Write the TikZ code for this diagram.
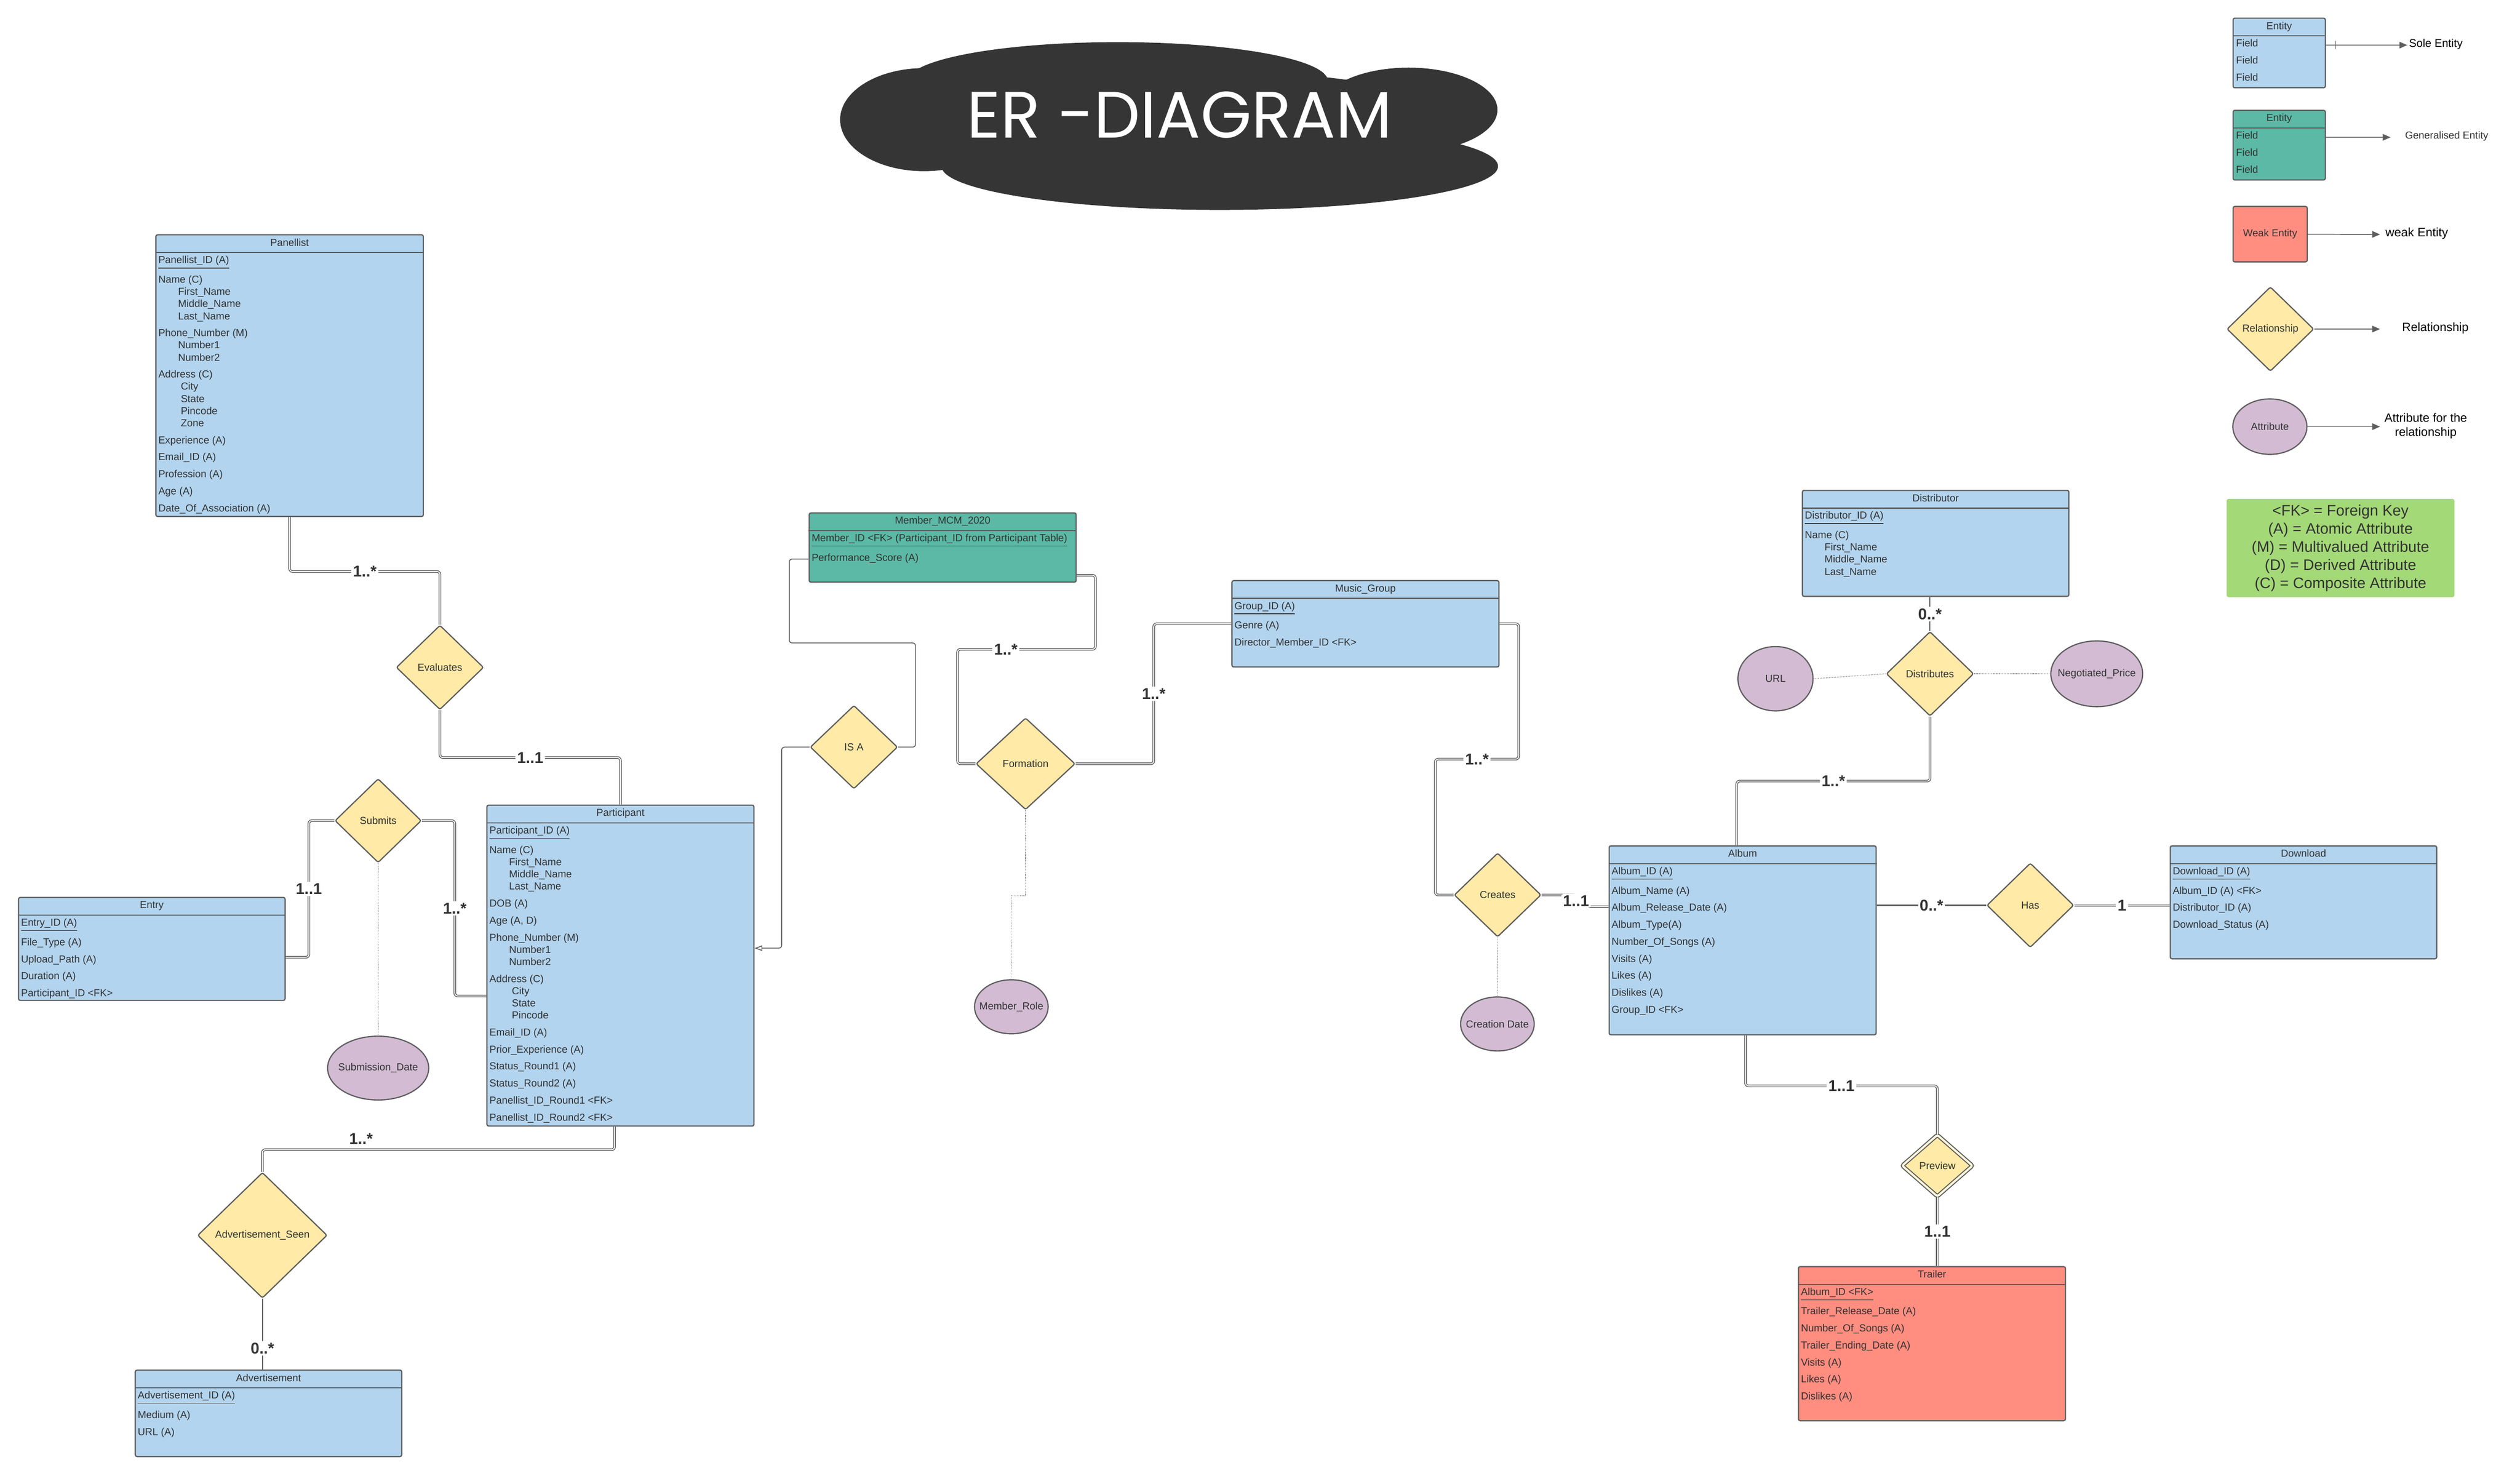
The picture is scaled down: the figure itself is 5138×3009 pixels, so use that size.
\documentclass[tikz,border=0pt]{standalone}
\usepackage{fontspec}
\setmainfont{Liberation Sans}
\newfontfamily\bannerfont{Poppins}
\usetikzlibrary{shapes.geometric, arrows.meta}
\definecolor{entblue}{RGB}{178,212,238}
\definecolor{entteal}{RGB}{91,185,165}
\definecolor{entweak}{RGB}{255,141,128}
\definecolor{relyel}{RGB}{255,234,167}
\definecolor{attpur}{RGB}{211,188,211}
\definecolor{keygrn}{RGB}{163,217,119}
\definecolor{lineg}{RGB}{94,94,94}
\definecolor{txt}{RGB}{51,51,51}
\definecolor{cloudc}{RGB}{53,53,53}
\tikzset{ent/.style  = {rectangle, draw=lineg, line width=0.7pt, rounded corners=1pt, inner sep=0pt},
         hdr/.style  = {draw=lineg, line width=0.7pt},
         ttl/.style  = {anchor=base, inner sep=0pt, text=txt, font=\fontsize{5.9}{7.06}\selectfont},
         fld/.style  = {anchor=north west, inner sep=0pt, align=left, text=txt, font=\fontsize{5.9}{7.06}\selectfont},
         rel/.style  = {diamond, draw=lineg, line width=0.7pt, fill=relyel, rounded corners=1pt, inner sep=0pt, text=txt, font=\fontsize{5.9}{7.06}\selectfont},
         att/.style  = {ellipse, draw=lineg, line width=0.7pt, fill=attpur, inner sep=0pt},
         every label/.style = {inner sep=0pt, text=txt, font=\fontsize{5.9}{7.06}\selectfont},
         card/.style = {fill=white, inner sep=1pt, text=txt, font=\fontsize{9.1}{10}\selectfont\bfseries},
         dbl/.style  = {draw=lineg, line width=0.45pt, double=white, double distance=0.55pt, rounded corners=1.7pt},
         one/.style  = {draw=lineg, line width=0.6pt},
         thinl/.style = {draw=lineg, line width=0.5pt, rounded corners=1.7pt},
         dotl/.style = {draw=lineg!80, line width=0.4pt, dash pattern=on 0.4pt off 0.5pt},
         lgd/.style  = {draw=lineg, line width=0.5pt},
         lgt/.style  = {anchor=west, inner sep=0pt, text=black, font=\fontsize{6.5}{7.8}\selectfont}}

\begin{document}
\begin{tikzpicture}[x=0.01cm, y=-0.01cm, >={Triangle[length=4.5pt, width=3.8pt]}]
    \useasboundingbox[fill=white] (0,0) rectangle (5138,3009);

    % title cloud
    \fill[cloudc] (2279,165) ellipse [x radius=4.28cm, y radius=0.79cm];
    \fill[cloudc] (1884,244) ellipse [x radius=1.71cm, y radius=1.05cm];
    \fill[cloudc] (2872,224) ellipse [x radius=1.81cm, y radius=0.86cm];
    \fill[cloudc] (2487,339) ellipse [x radius=5.67cm, y radius=0.89cm];
    \fill[cloudc] (2405,257) ellipse [x radius=5.93cm, y radius=1.15cm];
    \node[text=white, font=\bannerfont\fontsize{38}{40}\selectfont] (title) at (2405,234) {ER -DIAGRAM};

    % entities
    \node[ent, fill=entblue, minimum width=5.45cm, minimum height=5.74cm] (pan) at (590.5,766) {};
    \draw[hdr] ([yshift=-10.67pt]pan.north west) -- ([yshift=-10.67pt]pan.north east);
    \node[ttl] at ([yshift=-6.8pt]pan.north) {Panellist};
    \node[fld] at ([xshift=1.6pt,yshift=-12.5pt]pan.north west) {\underline{Panellist\_ID (A)}\\[2.8pt]
        Name (C)\\ \hspace*{11.4pt}First\_Name\\ \hspace*{11.4pt}Middle\_Name\\ \hspace*{11.4pt}Last\_Name\\[2.8pt]
        Phone\_Number (M)\\ \hspace*{11.4pt}Number1\\ \hspace*{11.4pt}Number2\\[2.8pt]
        Address (C)\\ \hspace*{13pt}City\\ \hspace*{13pt}State\\ \hspace*{13pt}Pincode\\ \hspace*{13pt}Zone\\[2.8pt]
        Experience (A)\\[2.8pt] Email\_ID (A)\\[2.8pt] Profession (A)\\[2.8pt] Age (A)\\[2.8pt] Date\_Of\_Association (A)};

    \node[ent, fill=entblue, minimum width=5.44cm, minimum height=6.54cm] (par) at (1265,1969) {};
    \draw[hdr] ([yshift=-10.67pt]par.north west) -- ([yshift=-10.67pt]par.north east);
    \node[ttl] at ([yshift=-6.8pt]par.north) {Participant};
    \node[fld] at ([xshift=1.6pt,yshift=-12.5pt]par.north west) {\underline{Participant\_ID (A)}\\[2.8pt]
        Name (C)\\ \hspace*{11.4pt}First\_Name\\ \hspace*{11.4pt}Middle\_Name\\ \hspace*{11.4pt}Last\_Name\\[2.8pt]
        DOB (A)\\[2.8pt] Age (A, D)\\[2.8pt]
        Phone\_Number (M)\\ \hspace*{11.4pt}Number1\\ \hspace*{11.4pt}Number2\\[2.8pt]
        Address (C)\\ \hspace*{13pt}City\\ \hspace*{13pt}State\\ \hspace*{13pt}Pincode\\[2.8pt]
        Email\_ID (A)\\[2.8pt] Prior\_Experience (A)\\[2.8pt] Status\_Round1 (A)\\[2.8pt] Status\_Round2 (A)\\[2.8pt]
        Panellist\_ID\_Round1 \textless FK\textgreater\\[2.8pt] Panellist\_ID\_Round2 \textless FK\textgreater};

    \node[ent, fill=entblue, minimum width=5.43cm, minimum height=2.10cm] (entry) at (309.5,1935) {};
    \draw[hdr] ([yshift=-10.67pt]entry.north west) -- ([yshift=-10.67pt]entry.north east);
    \node[ttl] at ([yshift=-6.8pt]entry.north) {Entry};
    \node[fld] at ([xshift=1.6pt,yshift=-12.5pt]entry.north west) {\underline{Entry\_ID (A)}\\[2.8pt]
        File\_Type (A)\\[2.8pt] Upload\_Path (A)\\[2.8pt] Duration (A)\\[2.8pt] Participant\_ID \textless FK\textgreater};

    \node[ent, fill=entblue, minimum width=5.43cm, minimum height=1.76cm] (adv) at (547.5,2882) {};
    \draw[hdr] ([yshift=-10.67pt]adv.north west) -- ([yshift=-10.67pt]adv.north east);
    \node[ttl] at ([yshift=-6.8pt]adv.north) {Advertisement};
    \node[fld] at ([xshift=1.6pt,yshift=-12.5pt]adv.north west) {\underline{Advertisement\_ID (A)}\\[2.8pt]
        Medium (A)\\[2.8pt] URL (A)};

    \node[ent, fill=entteal, minimum width=5.44cm, minimum height=1.41cm] (mem) at (1922,1116.5) {};
    \draw[hdr] ([yshift=-10.67pt]mem.north west) -- ([yshift=-10.67pt]mem.north east);
    \node[ttl] at ([yshift=-6.8pt]mem.north) {Member\_MCM\_2020};
    \node[fld] at ([xshift=1.6pt,yshift=-12.5pt]mem.north west) {\underline{Member\_ID \textless FK\textgreater{} (Participant\_ID from Participant Table)}\\[2.8pt]
        Performance\_Score (A)};

    \node[ent, fill=entblue, minimum width=5.44cm, minimum height=1.76cm] (mg) at (2784,1272) {};
    \draw[hdr] ([yshift=-10.67pt]mg.north west) -- ([yshift=-10.67pt]mg.north east);
    \node[ttl] at ([yshift=-6.8pt]mg.north) {Music\_Group};
    \node[fld] at ([xshift=1.6pt,yshift=-12.5pt]mg.north west) {\underline{Group\_ID (A)}\\[2.8pt]
        Genre (A)\\[2.8pt] Director\_Member\_ID \textless FK\textgreater};

    \node[ent, fill=entblue, minimum width=5.44cm, minimum height=3.85cm] (alb) at (3553,1917.5) {};
    \draw[hdr] ([yshift=-10.67pt]alb.north west) -- ([yshift=-10.67pt]alb.north east);
    \node[ttl] at ([yshift=-6.8pt]alb.north) {Album};
    \node[fld] at ([xshift=1.6pt,yshift=-12.5pt]alb.north west) {\underline{Album\_ID (A)}\\[2.8pt]
        Album\_Name (A)\\[2.8pt] Album\_Release\_Date (A)\\[2.8pt] Album\_Type(A)\\[2.8pt] Number\_Of\_Songs (A)\\[2.8pt]
        Visits (A)\\[2.8pt] Likes (A)\\[2.8pt] Dislikes (A)\\[2.8pt] Group\_ID \textless FK\textgreater};

    \node[ent, fill=entblue, minimum width=5.43cm, minimum height=2.30cm] (dl) at (4696.5,1840) {};
    \draw[hdr] ([yshift=-10.67pt]dl.north west) -- ([yshift=-10.67pt]dl.north east);
    \node[ttl] at ([yshift=-6.8pt]dl.north) {Download};
    \node[fld] at ([xshift=1.6pt,yshift=-12.5pt]dl.north west) {\underline{Download\_ID (A)}\\[2.8pt]
        Album\_ID (A) \textless FK\textgreater\\[2.8pt] Distributor\_ID (A)\\[2.8pt] Download\_Status (A)};

    \node[ent, fill=entblue, minimum width=5.43cm, minimum height=2.16cm] (dist) at (3946.5,1108) {};
    \draw[hdr] ([yshift=-10.67pt]dist.north west) -- ([yshift=-10.67pt]dist.north east);
    \node[ttl] at ([yshift=-6.8pt]dist.north) {Distributor};
    \node[fld] at ([xshift=1.6pt,yshift=-12.5pt]dist.north west) {\underline{Distributor\_ID (A)}\\[2.8pt]
        Name (C)\\ \hspace*{11.4pt}First\_Name\\ \hspace*{11.4pt}Middle\_Name\\ \hspace*{11.4pt}Last\_Name};

    \node[ent, fill=entweak, minimum width=5.44cm, minimum height=3.14cm] (tr) at (3939,2740) {};
    \draw[hdr] ([yshift=-10.67pt]tr.north west) -- ([yshift=-10.67pt]tr.north east);
    \node[ttl] at ([yshift=-6.8pt]tr.north) {Trailer};
    \node[fld] at ([xshift=1.6pt,yshift=-12.5pt]tr.north west) {\underline{Album\_ID \textless FK\textgreater}\\[2.8pt]
        Trailer\_Release\_Date (A)\\[2.8pt] Number\_Of\_Songs (A)\\[2.8pt] Trailer\_Ending\_Date (A)\\[2.8pt]
        Visits (A)\\[2.8pt] Likes (A)\\[2.8pt] Dislikes (A)};

    % relationships
    \node[rel, minimum width=1.78cm, minimum height=1.72cm] (ev)   at (897,1361)    {Evaluates};
    \node[rel, minimum width=1.76cm, minimum height=1.71cm] (sub)  at (771,1673.5)  {Submits};
    \node[rel, minimum width=2.64cm, minimum height=2.56cm] (ads)  at (535,2519)    {Advertisement\_Seen};
    \node[rel, minimum width=1.78cm, minimum height=1.70cm] (isa)  at (1741,1523.5) {IS A};
    \node[rel, minimum width=2.02cm, minimum height=1.87cm] (form) at (2091,1557.5) {Formation};
    \node[rel, minimum width=1.77cm, minimum height=1.71cm] (cr)   at (3053.5,1825) {Creates};
    \node[rel, minimum width=1.78cm, minimum height=1.72cm] (dis)  at (3935,1374)   {Distributes};
    \node[rel, minimum width=1.77cm, minimum height=1.72cm] (has)  at (4139.5,1846) {Has};
    \node[rel, minimum width=1.44cm, minimum height=1.26cm, line width=0.6pt, double=relyel!40, double distance=1.2pt] (pre) at (3950,2377) {Preview};

    % attributes
    \node[att, minimum width=2.06cm, minimum height=1.30cm, label={center:Submission\_Date}] (sd)  at (771,2178)  {};
    \node[att, minimum width=1.50cm, minimum height=1.10cm, label={center:Member\_Role}]     (mr)  at (2062,2053) {};
    \node[att, minimum width=1.50cm, minimum height=1.10cm, label={center:Creation Date}]    (cd)  at (3053,2088) {};
    \node[att, minimum width=1.53cm, minimum height=1.31cm, label={center:URL}]              (url) at (3620,1384) {};
    \node[att, minimum width=1.87cm, minimum height=1.34cm, label={center:Negotiated\_Price}] (neg) at (4275,1374) {};

    % connectors
    \draw[dbl] (pan.south) -- ++(0,111) -| node[card, pos=0.25] {1..*} (ev.north);
    \draw[dbl] (ev.south) -- ++(0,96.5) -| node[card, pos=0.25] {1..1} (par.north);
    \draw[dbl] (sub.west) -- ++(-52,0) |- node[card, pos=0.25] {1..1} ([yshift=-4.84pt]entry.east);
    \draw[dbl] (sub.east) -- ++(67,0) |- node[card, pos=0.25] {1..*} ([yshift=-17.64pt]par.west);
    \draw[dotl] (sub.south) -- (sd.north);
    \draw[dbl] ([xshift=-3.4pt]par.south) -- ++(0,47) -| node[card, pos=0.36, above=2pt] {1..*} (ads.north);
    \draw[one] (ads.south) -- node[card, pos=0.7] {0..*} (ads.south |- adv.north);
    \draw[thinl] ([yshift=-6.7pt]mem.west) -- ++(-39.5,0) -- ++(0,171) -- ++(257.5,0) |- (isa.east);
    \draw[thinl, -{Triangle[open, length=4.5pt, width=3.2pt]}] (isa.west) -- ++(-57,0) |- ([yshift=10.1pt]par.east);
    \draw[dbl] ([yshift=-16.07pt]mem.east) -- ++(38,0) -- ++(0,151) -- node[card, pos=0.65] {1..*} ++(-281,0) |- (form.west);
    \draw[dotl] (form.south) -- ++(0,174) -| (mr.north);
    \draw[dbl] (form.east) -- ++(159,0) |- node[card, pos=0.25] {1..*} (mg.west);
    \draw[dbl] (mg.east) -- ++(39,0) -- ++(0,276) -- node[card] {1..*} ++(-170,0) |- (cr.west);
    \draw[dotl] (cr.south) -- (cd.north);
    \draw[dbl] (cr.east) -- ++(70,0) |- node[card, pos=0.25] {1..1} ([yshift=19.5pt]alb.west);
    \draw[one] (dis.north |- dist.south) -- node[card] {0..*} (dis.north);
    \draw[dotl] (url.east) -- (dis.west);
    \draw[dotl] (dis.east) -- (neg.west);
    \draw[dbl] (dis.south) -- ++(0,131.5) -| node[card, pos=0.25] {1..*} ([xshift=-3.4pt]alb.north);
    \draw[one, line width=0.9pt] (has.west -| alb.east) -- node[card] {0..*} (has.west);
    \draw[dbl] (has.east) -- node[card] {1} (has.east -| dl.west);
    \draw[dbl] ([xshift=1.7pt]alb.south) -- ++(0,103) -| node[card, pos=0.25] {1..1} (pre.north);
    \draw[dbl] (pre.south) -- node[card] {1..1} (pre.south |- tr.north);

    % legend
    \node[ent, fill=entblue, minimum width=1.88cm, minimum height=1.42cm] (lg1) at (4647,108) {};
    \draw[hdr] ([yshift=-10.67pt]lg1.north west) -- ([yshift=-10.67pt]lg1.north east);
    \node[ttl] at ([yshift=-6.8pt]lg1.north) {Entity};
    \node[fld] at ([xshift=1.9pt,yshift=-12.5pt]lg1.north west) {Field\\[2.8pt] Field\\[2.8pt] Field};
    \node[ent, fill=entteal, minimum width=1.88cm, minimum height=1.42cm] (lg2) at (4647,296) {};
    \draw[hdr] ([yshift=-10.67pt]lg2.north west) -- ([yshift=-10.67pt]lg2.north east);
    \node[ttl] at ([yshift=-6.8pt]lg2.north) {Entity};
    \node[fld] at ([xshift=1.9pt,yshift=-12.5pt]lg2.north west) {Field\\[2.8pt] Field\\[2.8pt] Field};
    \node[ent, fill=entweak, minimum width=1.51cm, minimum height=1.13cm, text=txt, font=\fontsize{5.9}{7}\selectfont] (lgw) at (4628.5,477.5) {Weak Entity};
    \node[rel, minimum width=1.77cm, minimum height=1.72cm] (lgr) at (4629,671) {Relationship};
    \node[att, minimum width=1.51cm, minimum height=1.13cm, label={center:Attribute}] (lga) at (4628,870) {};

    \coordinate (e1) at (4908,92);
    \coordinate (e2) at (4874,280);
    \coordinate (e3) at (4852.5,478);
    \coordinate (e4) at (4852.5,671);
    \coordinate (e5) at (4852.5,870);
    \draw[lgd, ->] ([yshift=4.55pt]lg1.east) -- (e1);
    \draw[lgd] ([xshift=5.7pt, yshift=7.1pt]lg1.east) -- ++(0,18);
    \draw[lgd, ->] ([yshift=4.55pt]lg2.east) -- (e2);
    \draw[lgd, ->] (lgw.east) -- (e3);
    \draw[lgd, ->] (lgr.east) -- (e4);
    \draw[lgd, ->] (lga.east) -- (e5);
    \node[lgt] (sole) at (4911,90) {Sole Entity};
    \node[lgt, text=txt, font=\fontsize{5.9}{7}\selectfont] (gen) at (4903,278) {Generalised Entity};
    \node[lgt, font=\fontsize{7.1}{8.5}\selectfont] (weak) at (4863,476) {weak Entity};
    \node[lgt, font=\fontsize{7}{8.4}\selectfont] (relt) at (4897,669) {Relationship};
    \node[lgt, font=\fontsize{7}{8.25}\selectfont, align=center] (attt) at (4861,869) {Attribute for the\\relationship};

    \node[fill=keygrn, rounded corners=1pt, minimum width=4.64cm, minimum height=1.95cm, align=center, text=txt,
          font=\fontsize{8.8}{10.5}\selectfont] (key) at (4772,1117.5)
          {\textless FK\textgreater{} = Foreign Key\\ (A) = Atomic Attribute\\ (M) = Multivalued Attribute\\ (D) = Derived Attribute\\ (C) = Composite Attribute};
\end{tikzpicture}
\end{document}
